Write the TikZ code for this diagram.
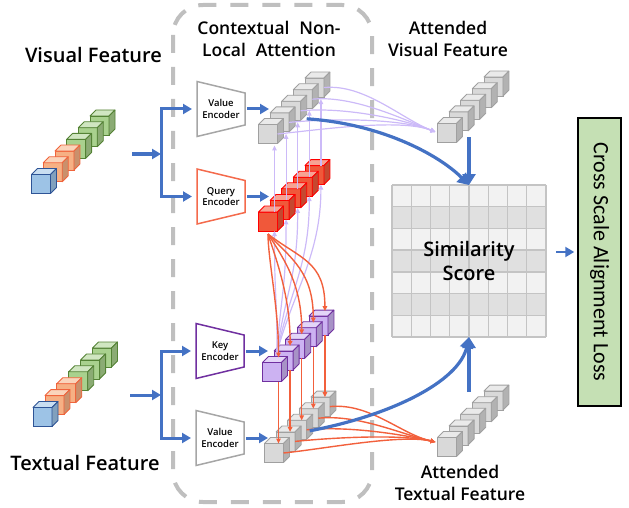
\documentclass[tikz,border=0pt]{standalone}
\usepackage{fontspec}
\setmainfont{Open Sans}
\IfFontExistsTF{Open Sans SemiBold}{\newfontfamily\lblfont{Open Sans SemiBold}}{%
  \IfFontExistsTF{Open Sans Semibold}{\newfontfamily\lblfont{Open Sans Semibold}}{%
    \newfontfamily\lblfont{Open Sans}[FakeBold=2.2]}}
\newfontfamily\lossfont{Carlito}
\usepackage{tikz}
\usetikzlibrary{calc}
\usetikzlibrary{arrows.meta, positioning}

\definecolor{boxgray}{RGB}{191,191,191}
\definecolor{featblue}{RGB}{68,114,196}
\definecolor{lilac}{RGB}{204,186,248}
\definecolor{attnorange}{RGB}{242,96,60}
\definecolor{encgray}{RGB}{166,166,166}
\definecolor{queryred}{RGB}{244,106,76}
\definecolor{keypurple}{RGB}{112,48,160}
\definecolor{cubegray}{RGB}{217,217,217}
\definecolor{grayedge}{RGB}{160,160,160}
\definecolor{cubered}{RGB}{240,88,58}
\definecolor{rededge}{RGB}{255,0,0}
\definecolor{cubepurple}{RGB}{204,178,242}
\definecolor{purpleedge}{RGB}{112,48,160}
\definecolor{cubeblue}{RGB}{157,195,230}
\definecolor{blueedge}{RGB}{46,84,150}
\definecolor{cubeorange}{RGB}{246,176,132}
\definecolor{orangeedge}{RGB}{240,100,60}
\definecolor{cubegreen}{RGB}{169,209,142}
\definecolor{greenedge}{RGB}{84,130,53}
\definecolor{gridlight}{RGB}{242,242,242}
\definecolor{griddark}{RGB}{224,224,224}
\definecolor{gridline}{RGB}{196,196,196}
\definecolor{lossgreen}{RGB}{197,224,180}

\begin{document}
\begin{tikzpicture}[
    x=1pt, y=-1pt,
    >=Latex,
    % cubes of the feature stacks
    cube/.style={minimum size=19pt, inner sep=0pt, outer sep=0pt, line width=0.8pt},
    cubeface/.style={line width=0.8pt, line join=round},
    % connectors
    bluearrow/.style={draw=featblue, line width=3pt, -{Triangle[length=9pt,width=10pt]}},
    bluebranch/.style={draw=featblue, line width=3pt, {Triangle[length=9pt,width=10pt]}-{Triangle[length=9pt,width=10pt]}},
    bigarrow/.style={draw=featblue, line width=3.2pt, -{Triangle[length=11pt,width=13pt]}},
    lilacarrow/.style={draw=lilac, line width=1.2pt, -{Triangle[length=5pt,width=4.5pt]}},
    orangearrow/.style={draw=attnorange, line width=1.4pt, -{Triangle[length=5pt,width=4.5pt]}},
    % encoders and texts
    encoder/.style={line width=1.5pt, line join=miter, fill=white},
    enctext/.style={font=\lblfont\fontsize{9.5}{11.5}\selectfont, align=center, inner sep=0pt},
    feattext/.style={font=\lblfont\fontsize{20}{24}\selectfont, align=center},
    headtext/.style={font=\lblfont\fontsize{17.5}{22}\selectfont, align=center},
    simtext/.style={font=\lblfont\fontsize{20}{24}\selectfont, align=center},
    nonlocal/.style={draw=boxgray, line width=4pt, rounded corners=30pt, dash pattern=on 18pt off 14pt}
]
\useasboundingbox (0,0) rectangle (629,508);

% --- 1. Contextual non-local attention block ---
\draw[nonlocal] (173,5) rectangle (372,502);

% --- 2. Input features (visual on top, textual below) ---
\foreach \nm/\cx/\cy/\st in {vin/41/184/11.7, tin/42.5/417/11.9}{
  \foreach \i/\cf/\ce in {5/cubegreen/greenedge, 4/cubegreen/greenedge, 3/cubegreen/greenedge,
                          2/cubeorange/orangeedge, 1/cubeorange/orangeedge, 0/cubeblue/blueedge}{
    \node[cube, fill=\cf, draw=\ce] (\nm\i) at ({\cx+\st*\i},{\cy-\st*\i}) {};
    \filldraw[cubeface, fill=\cf!55!white, draw=\ce] (\nm\i.north west) -- ++(6,-6) -- ++(19,0) -- (\nm\i.north east) -- cycle;
    \filldraw[cubeface, fill=\cf!82!black, draw=\ce] (\nm\i.north east) -- ++(6,-6) -- ++(0,19) -- (\nm\i.south east) -- cycle;
  }
}

% --- 3. Encoders ---
\foreach \nm/\cx/\cy/\col/\txt in {venc/221/109/encgray/Value, qenc/221/196.5/queryred/Query,
                                   kenc/220/351/keypurple/Key, tenc/220/438/encgray/Value}{
  \coordinate (\nm) at (\cx,\cy);
  \draw[encoder, draw=\col] ($(\nm)+(-24,-27.5)$) -- ($(\nm)+(24,-16)$) -- ($(\nm)+(24,16)$) -- ($(\nm)+(-24,27.5)$) -- cycle;
  \node[enctext] (\nm label) at (\nm) {\txt\\Encoder};
}

% feature -> encoders
\coordinate (vin out) at (132,154);
\coordinate (vsplit) at (161,154);
\draw[bluearrow] (vin out) -- (vsplit);
\draw[bluebranch] ($(venc)+(-29,0)$) -- (vsplit |- venc) -- (vsplit |- qenc) -- ($(qenc)+(-29,0)$);

\coordinate (tin out) at (130,395);
\coordinate (tsplit) at (161,395);
\draw[bluearrow] (tin out) -- (tsplit);
\draw[bluebranch] ($(kenc)+(-29,0)$) -- (tsplit |- kenc) -- (tsplit |- tenc) -- ($(tenc)+(-29,0)$);

% encoders -> embedded stacks
\foreach \nm in {venc, qenc, kenc, tenc}
  \draw[bluearrow] ($(\nm)+(26,0)$) -- ($(\nm)+(48,0)$);

% --- 4. Embedded stacks (value / query / key / value, attended outputs) ---
\foreach \nm/\cx/\cy/\cf/\ce in {v/268/134/cubegray/grayedge, q/268/221.5/cubered/rededge,
                                 k/272/372/cubepurple/purpleedge, t/274/453/cubegray/grayedge,
                                 av/447/133/cubegray/grayedge, at/447/447/cubegray/grayedge}{
  \foreach \i in {4,...,0}{
    \node[cube, fill=\cf, draw=\ce] (\nm\i) at ({\cx+11.6*\i},{\cy-11.6*\i}) {};
    \filldraw[cubeface, fill=\cf!55!white, draw=\ce] (\nm\i.north west) -- ++(6,-6) -- ++(19,0) -- (\nm\i.north east) -- cycle;
    \filldraw[cubeface, fill=\cf!82!black, draw=\ce] (\nm\i.north east) -- ++(6,-6) -- ++(0,19) -- (\nm\i.south east) -- cycle;
  }
}

% --- 5. Attention maps ---
% visual: key -> query -> value -> attended visual
\coordinate (kfan) at ($(k0.north)+(5,-10)$);
\foreach \i in {0,...,4}{
  \coordinate (qs\i) at ($(q\i.south east)+(-3,0)$);
  \coordinate (qn\i) at ($(q\i.north east)+(-3,0)$);
  \draw[lilacarrow] (kfan) .. controls +(4*\i,-60) and +(0,70) .. (qs\i);
  \draw[lilacarrow, shorten >=2pt] (qn\i) -- (qn\i |- v\i.south);
  \draw[lilacarrow] (v\i.east) .. controls +(40,-4) and +(-35,-14) .. ($(av0.west)+(-2,-1)$);
}

% textual: query -> key -> value -> attended textual
\coordinate (qfan) at ($(q0.south)+(0,3)$);
\foreach \i in {0,...,4}{
  \coordinate (ks\i) at ($(k\i.south east)+(-3,0)$);
  \draw[orangearrow] (qfan) .. controls +(8*\i,25) and +(0,-50) .. ($(k\i.north east)+(-3,-5)$);
  \draw[orangearrow] (ks\i) -- (ks\i |- t\i.north);
  \draw[orangearrow] (t\i.east) .. controls +(40,-4) and +(-35,-8) .. ($(at0.west)+(-2,-5)$);
}

% --- 6. Similarity score ---
\node[minimum width=154pt, minimum height=152pt, inner sep=0pt, outer sep=0pt] (sim) at (469,261) {};
\foreach \r/\col in {0/gridlight, 1/griddark, 2/gridlight, 3/griddark, 4/gridlight, 5/griddark, 6/gridlight}
  \fill[\col] ($(sim.north west)+(0,21.714*\r)$) rectangle ++(154,21.714);
\foreach \c in {0,...,8}
  \draw[gridline, line width=1.3pt] ($(sim.north west)+(19.25*\c,0)$) -- ++(0,152);
\foreach \r in {0,...,7}
  \draw[gridline, line width=1.3pt] ($(sim.north west)+(0,21.714*\r)$) -- ++(154,0);
\node[simtext] (sim label) at (sim) {Similarity\\Score};

\coordinate (vattn) at ($(v2.east)+(6,8)$);
\coordinate (tattn) at ($(t2.east)+(3,1)$);
\coordinate (av out) at ($(sim.north |- av0.south)+(0,-5)$);
\coordinate (at out) at ($(sim.south)+(0,55)$);
\draw[bigarrow] (vattn) .. controls +(75,5) and +(-30,-30) .. (sim.north);
\draw[bigarrow] (av out) -- (sim.north);
\draw[bigarrow] (tattn) .. controls +(80,-15) and +(-10,45) .. (sim.south);
\draw[bigarrow] (at out) -- (sim.south);

% --- 7. Loss ---
\node[draw=black, line width=1.5pt, fill=lossgreen, minimum width=43pt, minimum height=288pt, inner sep=0pt] (loss) at (599.5,262) {};
\node[rotate=-90, font=\lossfont\fontsize{22}{26}\selectfont] (loss label) at (loss) {Cross Scale Alignment Loss};
\draw[bluearrow, line width=2.4pt] ($(sim.east)+(10,-9)$) -- ($(loss.west)+(-3,-10)$);

% --- 8. Labels ---
\node[feattext] (vis label) at (93.5,55) {Visual Feature};
\node[feattext] (txt label) at (85,463) {Textual Feature};
\node[headtext] (cnl label) at (269,38.5) {Contextual\hspace{0.3em} Non-\\Local\hspace{0.3em} Attention};
\node[headtext] (av label) at (448,38.5) {Attended\\Visual Feature};
\node[headtext] (at label) at (460,483) {Attended\\Textual Feature};

\end{tikzpicture}
\end{document}
